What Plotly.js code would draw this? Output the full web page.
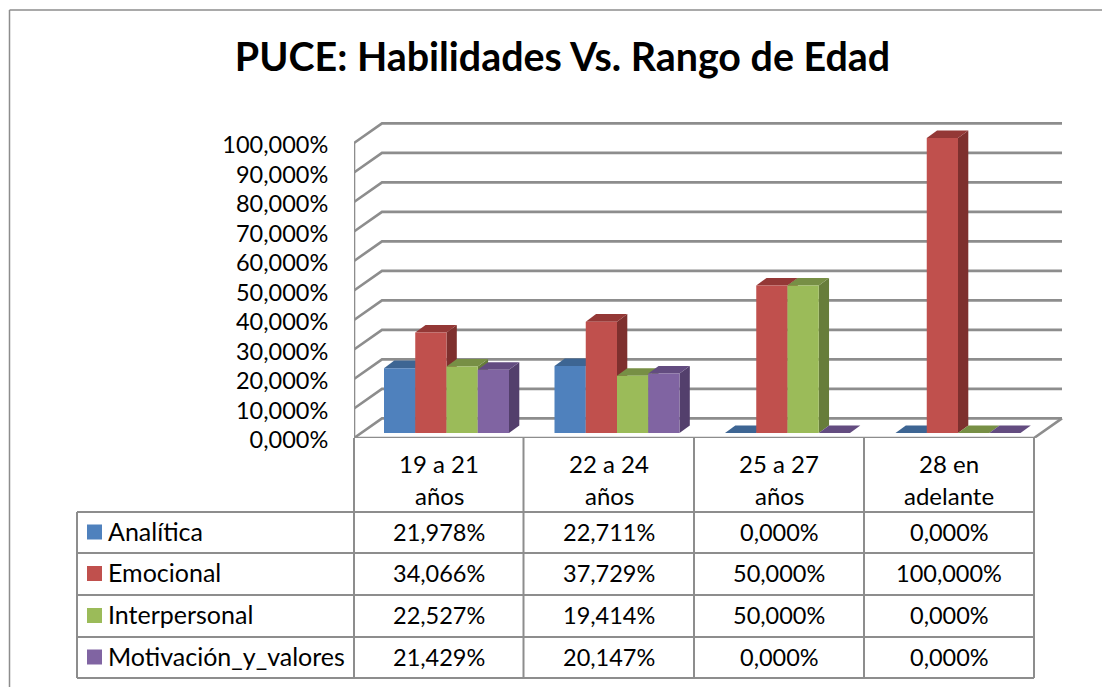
<!DOCTYPE html>
<html>
<head>
<meta charset="utf-8">
<script src="https://cdn.plot.ly/plotly-3.0.1.min.js"></script>
<style>html,body{margin:0;padding:0;background:#fff}#chart{width:1102px;height:687px}</style>
</head>
<body>
<div id="chart"></div>
<script>
var categories = ["19 a 21<br>años", "22 a 24<br>años", "25 a 27<br>años", "28 en<br>adelante"];
var seriesNames = ["Analítica", "Emocional", "Interpersonal", "Motivación_y_valores"];
var analitica = [21.978, 22.711, 0, 0];
var emocional = [34.066, 37.729, 50, 100];
var interpersonal = [22.527, 19.414, 50, 0];
var motivacion = [21.429, 20.147, 0, 0];
var yTicks = [0, 10, 20, 30, 40, 50, 60, 70, 80, 90, 100];
var frontColors = ["#4F81BD", "#C0504D", "#9BBB59", "#8064A2"];
var sideColors = ["#375A85", "#7E302E", "#677D3A", "#533F6C"];
var topColors = ["#3D6593", "#943836", "#778F45", "#634C80"];
var seriesValues = [analitica, emocional, interpersonal, motivacion];

var fmt = function (v) { return v.toFixed(3).replace(".", ",") + "%"; };

// pixel frame of the plot area
var L = 354, R = 1063, B = 438, T = 122, W = 1102, H = 687;
var catPx = 170.5, valPx = 2.95;
var ux = function (p) { return p / catPx; };
var uy = function (p) { return p / valPx; };
var px = function (p) { return (p - L) / (R - L); };
var py = function (p) { return (B - p) / (B - T); };

var GRID = "#8d8d8d", GW = 2.6;
var wallDx = ux(28), wallDy = uy(19.6);
var floorEnd = 680 / catPx;
var traces = [];

function line(xs, ys) {
  traces.push({ type: "scatter", mode: "lines", x: xs, y: ys, cliponaxis: false, hoverinfo: "skip",
    showlegend: false, line: { color: GRID, width: GW, simplify: false } });
}
yTicks.forEach(function (v) { line([0, wallDx, floorEnd + wallDx], [v, v + wallDy, v + wallDy]); });
line([0, 0], [0, 100]);
line([0, floorEnd, floorEnd + wallDx], [0, 0, wallDy]);

// bar geometry
var barStart = ux(30), barW = ux(31.25), baseY = uy(5), depthX = ux(10.3), depthY = uy(7.6);

function poly(xs, ys, color) {
  traces.push({ type: "scatter", mode: "lines", x: xs, y: ys, fill: "toself", fillcolor: color, cliponaxis: false,
    hoverinfo: "skip", showlegend: false, line: { width: 0, color: color } });
}
categories.forEach(function (c, i) {
  seriesValues.forEach(function (vals, s) {
    var x0 = i + barStart + s * barW, x1 = x0 + barW, top = baseY + vals[i];
    poly([x1, x1 + depthX, x1 + depthX, x1, x1], [baseY, baseY + depthY, top + depthY, top, baseY], sideColors[s]);
    poly([x0, x1, x1 + depthX, x0 + depthX, x0], [top, top, top + depthY, top + depthY, top], topColors[s]);
  });
});

seriesValues.forEach(function (vals, s) {
  traces.push({
    type: "bar", name: seriesNames[s], xaxis: "x2", yaxis: "y2",
    x: categories.map(function (c, i) { return i + barStart + s * barW; }),
    y: vals, base: vals.map(function () { return baseY; }),
    width: barW, offset: 0, marker: { color: frontColors[s], line: { width: 0 } },
    showlegend: false
  });
});

// data table
var FONT = "Lato, Carlito, sans-serif";
var shapes = [], annotations = [];
function seg(x0, y0, x1, y1, w, col) {
  shapes.push({ type: "line", xref: "paper", yref: "paper", x0: px(x0), y0: py(y0), x1: px(x1), y1: py(y1),
    line: { color: col || GRID, width: w || 2 } });
}
function label(x, y, text, anchor, size) {
  annotations.push({ xref: "paper", yref: "paper", x: px(x), y: py(y), text: text, showarrow: false,
    xanchor: anchor || "center", yanchor: "middle", xshift: 0, yshift: 0,
    font: { family: FONT, size: size || 23.5, color: "#000" } });
}
var rowLines = [512, 553, 595, 637, 678];
var colLines = [354, 523.5, 694, 864, 1034];
rowLines.forEach(function (y) { seg(77, y, 1034, y); });
seg(77, 512, 77, 678);
colLines.forEach(function (x) { seg(x, 438, x, 678); });

// chart-area frame
seg(9.5, 10, 9.5, 687, 1.5);
seg(9.5, 10, 1102, 10, 1.5);

var colCenters = [439, 609, 779, 949];
categories.forEach(function (c, i) {
  var parts = c.split("<br>");
  label(colCenters[i], 463, parts[0], "center", 24);
  label(colCenters[i], 495, parts[1], "center", 24);
});
seriesNames.forEach(function (n, s) {
  var mid = (rowLines[s] + rowLines[s + 1]) / 2;
  shapes.push({ type: "rect", xref: "paper", yref: "paper", x0: px(87), x1: px(102), y0: py(mid - 8), y1: py(mid + 7),
    fillcolor: frontColors[s], line: { width: 0 } });
  label(106, mid - 2, n, "left", 25);
  seriesValues[s].forEach(function (v, i) { label(colCenters[i], mid - 1, fmt(v)); });
});

var layout = {
  width: W, height: H, paper_bgcolor: "#fff", plot_bgcolor: "rgba(0,0,0,0)",
  margin: { l: L, r: W - R, t: T, b: H - B, pad: 0 },
  showlegend: false, barmode: "overlay",
  title: { text: "<b>PUCE: Habilidades Vs. Rango de Edad</b>", xref: "paper", yref: "container",
    x: px(562.5), xanchor: "center", y: 1 - 57 / H, yanchor: "middle",
    font: { family: FONT, size: 39.4, color: "#000" } },
  xaxis: { range: [0, (R - L) / catPx], visible: false, fixedrange: true },
  yaxis: { range: [0, (B - T) / valPx], tickmode: "array", tickvals: yTicks, ticktext: yTicks.map(fmt),
    showgrid: false, zeroline: false, showline: false, ticks: "outside", ticklen: 20, tickcolor: "rgba(0,0,0,0)",
    ticklabelshift: 2,
    tickfont: { family: FONT, size: 23.5, color: "#000" }, fixedrange: true },
  xaxis2: { range: [0, (R - L) / catPx], overlaying: "x", visible: false, fixedrange: true },
  yaxis2: { range: [0, (B - T) / valPx], overlaying: "y", visible: false, fixedrange: true },
  shapes: shapes, annotations: annotations
};
Plotly.newPlot("chart", traces, layout, { displayModeBar: false, responsive: false });
</script>
</body>
</html>
